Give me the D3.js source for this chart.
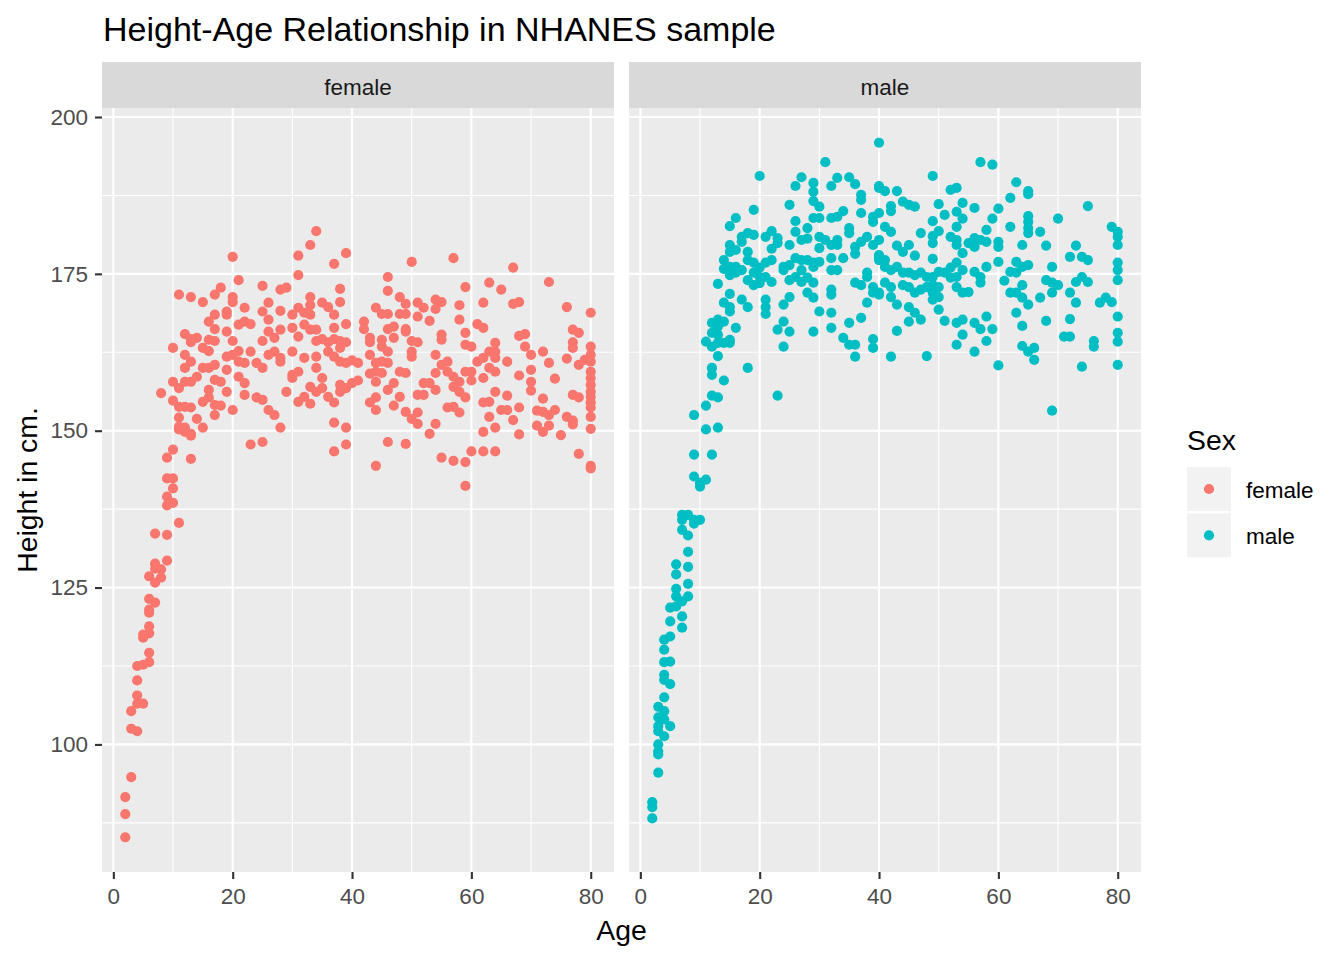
<!DOCTYPE html>
<html>
<head>
<meta charset="utf-8">
<script src="https://cdn.jsdelivr.net/npm/d3@7"></script>
<style>
  body { margin: 0; background: #fff; }
  text { font-family: "Liberation Sans", Arial, sans-serif; }
</style>
</head>
<body>
<svg id="chart" width="1344" height="960"></svg>
<script>
// [age, height]
const female = [
  [2,85.2],[2,88.9],[2,91.6],[3,94.8],[3,102.5],[4,102.1],[3,105.3],[4,106.5],[5,106.5],[4,107.8],[4,110.2],[4,112.5],[5,112.7],[6,113.1],[6,114.6],
  [5,117],[5,117.5],[6,117.7],[6,118.8],[6,121],[6,121.5],[6,123.2],[7,122.6],[6,126.8],[7,125.8],[8,126.6],[7,128.8],[7,128],[8,127.9],[9,129.3],
  [7,133.6],[9,133.4],[11,135.3],[9,138.1],[10,138.5],[9,139.5],[10,140.8],[10,142.4],[9,142.4],[9,145.7],[10,147],[13,145.5],[13,149.2],[12,149.8],
  [11,150.2],[23,147.8],[25,148.2],[37,146.7],[39,147.8],
  [44,144.4],[46,148.2],[49,147.9],[55,145.7],[57,145.2],[59,145],[59,141.2],[60,146.7],[62,146.7],[64,146.7],[78,146.3],[80,144.4],[80,144],
  [34,181.8],[33,179.6],[39,178.3],[37,176.6],[31,177.9],[31,174.8],[20,177.7],[21,174],[25,173.1],[18,172.8],[11,171.7],[13,171.3],[15,170.5],
  [17,171.7],[20,171.3],[20,170.5],[22,169.6],[19,169],[19,168.5],[17,168.5],[16,167.4],[17,166.2],[19,165.8],[21,166.9],[22,167.4],[23,167],
  [26,170.4],[25,169],[26,167.7],[28,172.5],[29,172.8],[28,169.1],[30,168.5],[31,169.6],[32,168.8],[33,171.3],[33,170],[33,168.5],[35,170.4],
  [36,169.7],[38,172.6],[38,170.5],[37,168.5],[39,167],[28,166.1],[30,166.4],[32,166.9],[33,166.1],[34,166.1],[37,166.4],
  [12,165.4],[13,164.6],[13,164.1],[14,164.8],[16,164.5],[17,164.3],[20,164.3],[25,164.3],[26,165.8],[27,164.8],[31,165],[34,164.3],[35,164.6],
  [36,164.1],[37,164.6],[38,164.3],[39,164.1],[38,163.2],
  [10,163.2],[12,162.1],[13,161],[12,160],[15,163.2],[16,162.7],[15,160],[16,160],[17,160.5],[19,161.8],[20,162.1],[21,162.7],[23,162.6],[19,159.7],
  [21,161],[22,160.8],[24,160.8],[25,160],[26,162.1],[27,162.6],[28,161.6],[28,161],[30,162.6],[32,161.6],[34,161.8],[34,160],[36,162.6],[37,161.8],
  [38,161],[39,160.8],[40,161.2],[40,157.6],
  [10,157.8],[11,156.8],[12,157.8],[13,157.8],[14,158.6],[8,156],[16,156.5],[17,158.1],[18,157.8],[19,156.2],[21,158.6],[22,157.6],[22,155.7],
  [24,155.3],[25,154.9],[29,156.2],[30,158.9],[31,159.4],[30,158.4],[33,157],[34,156.2],[35,156.8],[35,158.4],[38,157.3],[39,156.8],[38,156.2],
  [10,154.8],[11,153.8],[12,153.8],[13,153.7],[11,152.1],[11,150.6],[12,150.5],[13,149.5],[14,151.9],[15,150.5],[15,154.6],[16,155.3],[17,154.1],
  [18,154],[17,152.5],[20,153.3],[26,153.3],[27,152.5],[28,150.5],[31,154.6],[32,155.4],[33,154.3],[36,155.4],[37,154.5],[37,151.3],[39,150.5],
  [50,176.9],[57,177.5],[67,176],[46,174.5],[73,173.7],[46,172.3],[59,172.9],[63,173.6],[65,172.5],[48,171.3],[49,170.2],[44,169.6],[45,168.6],
  [46,168.6],[48,168.6],[49,168.6],[51,170.4],[52,169.6],[54,170.9],[55,170.5],[54,169.4],[51,168.2],[53,167.5],[58,170],[58,167.7],[62,170.4],
  [67,170.2],[68,170.5],[76,169.7],[80,168.8],[42,167.4],[42,166.2],[46,166.2],[47,166.6],[47,164.8],[49,166.2],[49,165.8],[43,164.8],[43,164.1],
  [45,164.5],[45,163.4],[46,162.6],[50,164.3],[51,164.1],[55,165.3],[55,164.5],[59,165.6],[59,163.7],[60,163.4],[61,167],[62,166.4],[68,165.1],
  [69,165.4],[69,163.4],[64,164],[77,166.1],[78,165.6],[77,164.1],[77,163.2],[80,163.4],[80,162.1],[80,161],
  [41,160.8],[43,162.1],[44,160.8],[45,161],[46,160.8],[50,162.6],[50,161.8],[54,162.1],[56,161],[55,160.5],[61,161],[62,161.6],[63,162.6],
  [64,162.6],[64,161.6],[63,160],[64,159.4],[66,161],[70,162.1],[72,162.6],[73,160.8],[76,161.5],[78,160.5],[79,161.3],[80,159.4],[80,158.4],
  [80,157.3],[80,156.2],[80,155.4],
  [41,158],[43,159.1],[44,159.4],[44,157.8],[45,159.2],[48,159.4],[49,159.2],[47,157.6],[46,156.5],[52,157.6],[53,157.6],[54,156.5],[51,155.7],
  [52,155.7],[48,155.4],[54,159.2],[56,159.4],[57,158.6],[57,157],[58,157.8],[58,156.2],[59,155.3],[57,153.8],[56,153.7],[58,152.9],[59,159.4],
  [60,159.4],[60,158],[62,158.4],[68,158.8],[70,159.7],[70,157.8],[70,156.4],[74,158.3],
  [43,154.5],[44,155.3],[44,153.3],[47,154],[49,153],[50,151.9],[51,151.1],[51,152.9],[53,149.5],[54,151.1],[62,154.5],[63,154.6],[64,156.2],
  [66,155.6],[65,153.3],[66,153.3],[68,153.7],[63,152.2],[67,151.7],[62,149.8],[64,150.5],[68,149.4],[72,155.1],[71,153.2],[72,153],[73,152.5],
  [74,153.3],[73,150.8],[71,150.8],[72,149.8],[75,149.3],[76,152.2],[77,151.6],[77,151],[77,155.7],[78,155.3],[80,154.5],[80,153.7],[80,152.2],
  [80,150.3]
];

const male = [
  [2,90.8],[2,90],[2,88.2],[3,95.5],[3,100],[3,98.9],[3,98.4],[3,106],[4,105.3],[3,104.3],[4,104],[5,102.9],[3,102.9],[3,102.1],[4,101.3],
  [4,107.5],[4,111.1],[4,110.3],[5,109.6],[4,113.1],[5,113.2],[5,117.2],[4,116.7],[4,115.1],[5,119.6],[7,120.4],[7,118.6],[6,124.8],[6,123.6],
  [7,122.8],[8,123.6],[5,121.8],[6,122],[8,125.6],[6,128.7],[6,127.1],[8,128.3],[8,130.7],[7,134.2],[8,133.3],[7,136.6],[8,136.6],[7,135.8],
  [9,135.8],[10,135.8],[9,135.2],[9,142.7],[10,141.7],[11,142.2],[10,141.1],[9,146.2],[12,146.2],
  [12,160],[12,158.9],[18,160],[14,158],[12,155.6],[13,155.3],[11,154],[9,152.5],[11,150.2],[13,150.5],[23,155.6],
  [40,195.9],[31,192.8],[20,190.6],[27,190.4],[26,189],[29,189.5],[29,188.1],[29,186.6],[32,189],[33,190.3],[35,190.4],[36,189.3],[37,187.6],
  [37,186.8],[40,189],[40,188.7],[25,186],[19,185.2],[16,183.9],[15,182.6],[30,185.7],[29,183.9],[30,183.9],[32,183.9],[33,184.1],[34,185],
  [37,184.7],[39,183.3],[39,184.1],[40,184.7],[26,183.4],[28,182.3],[26,181.7],[25,179.6],[27,180.4],[28,180.6],[17,180.9],[18,181.5],[19,181.2],
  [17,180.1],[21,180.9],[22,181.8],[23,180.7],[23,179.9],[22,179],[15,179.6],[16,178.8],[15,178.5],[18,178.5],[30,180.9],[31,180.4],[32,179.6],
  [33,180.4],[33,179.6],[35,182.3],[35,181.5],[36,179.3],[37,180.1],[38,180.9],[39,179.6],[40,180.4],[30,179.1],[32,177.5],[34,177.5],[36,178.2],
  [40,178],[40,177.2],
  [14,177.2],[14,175.8],[15,176.1],[16,176.1],[15,174.8],[16,175.2],[17,175.6],[18,177.2],[19,176.8],[20,176],[21,176.8],[22,177.2],[19,175.2],
  [18,174],[20,174.5],[21,174.5],[22,173.7],[19,173.2],[20,173.5],[24,176.1],[25,176.4],[26,177.5],[27,177.2],[28,177.2],[29,176.8],[30,176.9],
  [24,175.6],[25,174],[26,174.5],[27,173.7],[28,174.4],[29,173.6],[27,175.6],[29,176.1],[32,175.6],[33,175.6],[36,173.6],[37,173.2],[38,174.5],
  [38,175.2],[39,172.9],[39,172],[40,172],[38,170.4],
  [13,173.4],[15,171.8],[14,170.4],[15,169.7],[15,169],[17,170.9],[18,169.7],[21,170.9],[21,169.7],[21,168.6],[25,171.3],[24,170.1],[28,172],
  [29,171.2],[32,172.5],[32,171.7],[30,169],[32,168.8],[32,166.4],[35,167.2],[37,168],[13,167.7],[12,167.2],[13,166.6],[14,167.4],[16,166.4],
  [12,165.6],[13,165.3],[11,164.2],[12,163.4],[13,164],[14,164],[15,164.5],[15,164],[13,161.9],[23,166.1],[24,167.4],[25,165.8],[24,163.4],
  [29,165.8],[34,164.8],[35,163.7],[36,163.7],[39,164.6],[39,163.2],[36,161.8],
  [57,192.8],[59,192.4],[49,190.6],[63,189.6],[52,188.4],[53,188.7],[65,188.2],[65,187.7],[41,188.2],[43,188.2],[62,187.1],[75,185.8],[44,186.5],
  [45,186],[46,185.7],[50,186.1],[54,186.3],[56,185.5],[60,185.4],[42,185.8],[42,185],[51,184.4],[53,184.9],[54,183.8],[49,183.4],[59,183.8],
  [65,184.2],[65,183.3],[65,182.3],[65,181.5],[70,183.8],[41,182.5],[42,181.7],[53,182.5],[50,181.8],[49,181],[49,179.9],[47,181.5],[52,180.9],
  [53,180.4],[53,179.6],[55,179.9],[56,180.7],[57,180.4],[58,182],[58,180.1],[56,179.3],[60,180.1],[60,179.3],[62,182.5],[67,181.7],[64,179.6],
  [68,179.5],[73,179.5],[79,182.5],[80,181.7],[80,180.9],[80,179.6],
  [43,179.5],[44,178.5],[45,179.6],[40,177.7],[41,177.2],[46,177.9],[49,177.4],[54,178.3],[60,176.9],[63,176.9],[72,177.7],[74,177.7],[75,177.2],
  [80,176.8],[80,175.6],[80,174],[69,176.1],
  [41,176.1],[42,175.6],[43,176.1],[44,175.2],[45,175.2],[46,174.8],[47,175.2],[48,174.5],[49,174.5],[50,175.3],[51,175.2],[52,176],[53,176.8],
  [54,175.6],[53,174.5],[52,174.4],[56,175.3],[57,174.5],[58,176.1],[62,175.3],[63,175.2],[64,176.1],[65,176.4],[61,173.9],
  [41,173.6],[42,172.9],[44,173.2],[45,172.9],[46,172],[47,172.5],[48,172.9],[49,173.2],[50,172.9],[49,172],[50,171.3],[49,170.9],[53,172.9],
  [54,172],[55,172.1],[57,173.6],[62,172],[63,172],[64,173.2],[64,171.2],[65,170.1],[68,174],[69,173.6],[70,173.2],[69,172],[73,173.7],
  [74,174.5],[75,173.7],[72,172],[73,170.4],[67,171.2],[77,170.4],[78,171.2],[79,170.5],[40,171.7],[42,171.3],[43,170.1],
  [45,169.7],[46,168.8],[47,167.7],[45,167.4],[50,169.3],[51,167.5],[53,167.2],[54,167.7],[43,165.9],[54,165.3],[53,163.7],[56,167.2],[57,166.2],
  [58,168.2],[59,166.2],[58,164.3],[56,162.6],[63,168.8],[64,166.7],[68,167.5],[72,167.8],[71,165],[72,165],[76,164.3],[76,163.4],[80,168.2],
  [80,165.6],[80,164.2],[64,163.5],[65,162.6],[66,163.2],[48,161.9],[42,161.8],
  [60,160.4],[66,161.3],[74,160.2],[80,160.5],[69,153.2]
];

const sexes = ['female', 'male'];
const sexColors = ['#F8766D', '#00BFC4'];
const xTicks = [0, 20, 40, 60, 80];
const xMinor = [10, 30, 50, 70];
const yTicks = [100, 125, 150, 175, 200];
const yMinor = [87.5, 112.5, 137.5, 162.5, 187.5];

const svg = d3.select('#chart');
const W = 1344, H = 960;
svg.append('rect').attr('width', W).attr('height', H).attr('fill', '#fff');

// panel geometry
const panelTop = 108, panelBottom = 872, stripTop = 62;
const panelX = [[102, 614], [629, 1141]];
const pointR = 5.1;

// ggplot style 5% expansion
const expand = (ext) => { const p = (ext[1] - ext[0]) * 0.05; return [ext[0] - p, ext[1] + p]; };
const all = female.concat(male);
const xDom = expand(d3.extent(all, d => d[0]));
const yDom = expand(d3.extent(all, d => d[1]));

const y = d3.scaleLinear().domain(yDom).range([panelBottom, panelTop]);
const series = [female, male];

sexes.forEach((sex, i) => {
  const [x0, x1] = panelX[i];
  const x = d3.scaleLinear().domain(xDom).range([x0, x1]);
  const g = svg.append('g');

  g.append('rect').attr('x', x0).attr('y', panelTop)
    .attr('width', x1 - x0).attr('height', panelBottom - panelTop).attr('fill', '#EBEBEB');

  // minor grid
  g.selectAll('.xmin').data(xMinor).enter().append('line')
    .attr('x1', d => x(d)).attr('x2', d => x(d)).attr('y1', panelTop).attr('y2', panelBottom)
    .attr('stroke', '#fff').attr('stroke-width', 1.1);
  g.selectAll('.ymin').data(yMinor).enter().append('line')
    .attr('x1', x0).attr('x2', x1).attr('y1', d => y(d)).attr('y2', d => y(d))
    .attr('stroke', '#fff').attr('stroke-width', 1.1);
  // major grid
  g.selectAll('.xmaj').data(xTicks).enter().append('line')
    .attr('x1', d => x(d)).attr('x2', d => x(d)).attr('y1', panelTop).attr('y2', panelBottom)
    .attr('stroke', '#fff').attr('stroke-width', 2.1);
  g.selectAll('.ymaj').data(yTicks).enter().append('line')
    .attr('x1', x0).attr('x2', x1).attr('y1', d => y(d)).attr('y2', d => y(d))
    .attr('stroke', '#fff').attr('stroke-width', 2.1);

  // points
  g.selectAll('circle').data(series[i]).enter().append('circle')
    .attr('cx', d => x(d[0])).attr('cy', d => y(d[1])).attr('r', pointR)
    .attr('fill', sexColors[i]);

  // strip
  g.append('rect').attr('x', x0).attr('y', stripTop)
    .attr('width', x1 - x0).attr('height', panelTop - stripTop).attr('fill', '#D9D9D9');
  g.append('text').attr('x', (x0 + x1) / 2).attr('y', 95)
    .attr('text-anchor', 'middle').attr('font-size', 22.5).attr('fill', '#1A1A1A').text(sex);

  // x axis
  const xAxis = g.append('g').attr('transform', `translate(0,${panelBottom})`)
    .call(d3.axisBottom(x).tickValues(xTicks).tickSize(7).tickPadding(9));
  xAxis.select('.domain').remove();
  xAxis.selectAll('line').attr('stroke', '#333').attr('stroke-width', 2.1);
  xAxis.selectAll('text').attr('font-size', 22.5).attr('fill', '#4D4D4D')
    .attr('font-family', '"Liberation Sans", Arial, sans-serif');

  if (i === 0) {
    const yAxis = g.append('g').attr('transform', `translate(${x0},0)`)
      .call(d3.axisLeft(y).tickValues(yTicks).tickSize(7).tickPadding(7));
    yAxis.select('.domain').remove();
    yAxis.selectAll('line').attr('stroke', '#333').attr('stroke-width', 2.1);
    yAxis.selectAll('text').attr('font-size', 22.5).attr('fill', '#4D4D4D')
      .attr('font-family', '"Liberation Sans", Arial, sans-serif');
  }
});

// titles
svg.append('text').attr('x', 103).attr('y', 41).attr('font-size', 34).attr('fill', '#000')
  .text('Height-Age Relationship in NHANES sample');
svg.append('text').attr('x', (panelX[0][0] + panelX[1][1]) / 2).attr('y', 940)
  .attr('text-anchor', 'middle').attr('font-size', 28.4).attr('fill', '#000').text('Age');
svg.append('text').attr('transform', `translate(37,${(panelTop + panelBottom) / 2}) rotate(-90)`)
  .attr('text-anchor', 'middle').attr('font-size', 28.4).attr('fill', '#000').text('Height in cm.');

// legend
const leg = svg.append('g').attr('transform', 'translate(1187,0)');
leg.append('text').attr('x', 0).attr('y', 450).attr('font-size', 28.4).attr('fill', '#000').text('Sex');
sexes.forEach((sex, i) => {
  const top = 467 + i * 46.3;
  leg.append('rect').attr('x', 0).attr('y', top).attr('width', 44).attr('height', 44).attr('fill', '#F2F2F2');
  leg.append('circle').attr('cx', 22).attr('cy', top + 22).attr('r', pointR).attr('fill', sexColors[i]);
  leg.append('text').attr('x', 59).attr('y', top + 30.5).attr('font-size', 22.5).attr('fill', '#000').text(sex);
});
</script>
</body>
</html>
